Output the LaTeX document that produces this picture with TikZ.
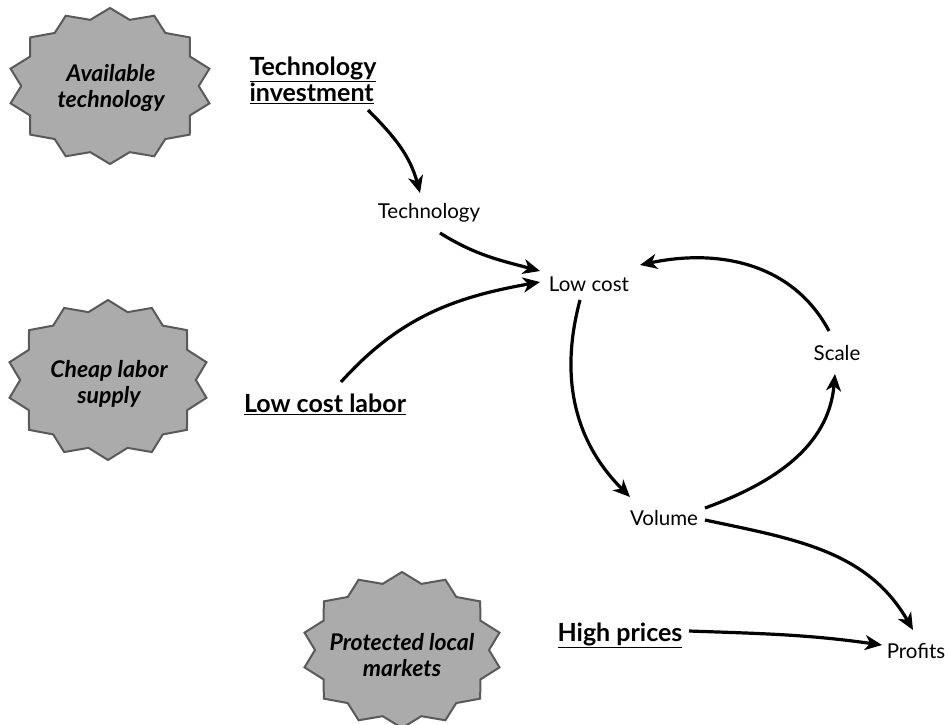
\documentclass[tikz,border=0pt]{standalone}
\usepackage{fontspec}
\setmainfont{Lato}
\usepackage{tikz}
\usetikzlibrary{arrows.meta}

\tikzset{
    burst/.style={fill={rgb,255:red,171;green,171;blue,171}, draw={rgb,255:red,90;green,90;blue,90}, line width=2pt, line join=miter},
    cause/.style={align=center, font=\fontsize{23}{26}\selectfont\bfseries\itshape},
    driver/.style={align=left, font=\fontsize{25}{25}\selectfont\bfseries},
    factor/.style={font=\fontsize{20.5}{22}\selectfont},
    link/.style={line width=3.2pt, -{Stealth[length=17pt,width=15pt,inset=5pt]}}
}

\begin{document}
\begin{tikzpicture}[x=1pt,y=1pt]
    \useasboundingbox (0,0) rectangle (945,-724);

    % the three bursts
    \foreach \cx/\cy/\rx/\ry in {110/-86/102/78, 108/-380/101/80, 402/-650/100/78}
    \draw[burst, shift={(\cx,\cy)}] (90:{\rx} and {\ry})
        \foreach \k in {0,...,13} { -- ({102.857+25.714*\k}:{0.87*\rx} and {0.87*\ry}) -- ({115.714+25.714*\k}:{\rx} and {\ry}) } -- cycle;

    \node[cause] (avail) at (111,-88) {Available\\technology};
    \node[cause] (cheap) at (109,-384) {Cheap labor\\supply};
    \node[cause] (protect) at (402,-655) {Protected local\\markets};

    \node[driver] (techinv) at (313,-80) {\underline{Technology}\\\underline{investment}};
    \node[driver] (labor) at (325,-404) {\underline{Low cost labor}};
    \node[driver] (prices) at (620,-635) {\underline{High prices}};

    \node[factor] (tech) at (429,-213) {Technology};
    \node[factor] (lowcost) at (589,-284) {Low cost};
    \node[factor] (scale) at (837,-353) {Scale};
    \node[factor] (volume) at (664,-518) {Volume};
    \node[factor] (profits) at (916,-651) {Profits};

    \draw[link] ([shift={(55,-30)}]techinv.center) to[out=-45,in=105] ([shift={(-9,20)}]tech.center);
    \draw[link] ([shift={(11,-20)}]tech.center) to[out=-32,in=165] ([shift={(-49,13)}]lowcost.center);
    \draw[link] ([shift={(16,22)}]labor.center) to[out=48,in=190] ([shift={(-49,2)}]lowcost.center);
    \draw[link] ([shift={(-9,-16)}]lowcost.center) to[out=-105,in=135] ([shift={(-34,21)}]volume.center);
    \draw[link] ([shift={(41,10)}]volume.center) to[out=20,in=-95] ([shift={(-2,-21)}]scale.center);
    \draw[link] ([shift={(-8,22)}]scale.center) to[out=118,in=12] ([shift={(51,19)}]lowcost.center);
    \draw[link] ([shift={(41,-2)}]volume.center) to[out=-12,in=120] ([shift={(-3,21)}]profits.center);
    \draw[link] ([shift={(69,4)}]prices.center) to[out=-2,in=172] ([shift={(-34,6)}]profits.center);
\end{tikzpicture}
\end{document}
